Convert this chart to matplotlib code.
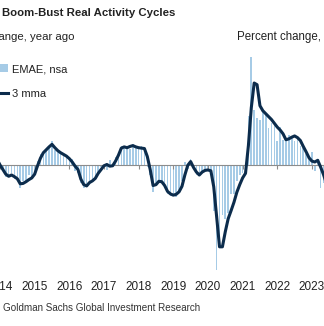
import numpy as np
import matplotlib
matplotlib.use("Agg")
import matplotlib.pyplot as plt
from matplotlib.patches import Patch
from matplotlib.lines import Line2D

plt.rcParams['font.family'] = ['Liberation Sans', 'DejaVu Sans']

# monthly data, Dec 2013 .. Aug 2023 (x = months since Jan 2014)
months = np.arange(-1, 116)

emae_nsa = [0.5,
    0.2, -1.5, -3.0, -2.5, -2.0, -3.5, -3.0, -5.5, -4.0, -4.5, -2.5, -3.0,
    -1.8, 0.8, 2.5, 3.0, 3.8, 4.5, 5.5, 3.5, 3.0, 3.2, 2.0, 2.2,
    0.8, 1.2, -1.5, -2.0, -4.5, -5.5, -5.0, -4.0, -4.2, -3.0, -1.8, -0.5,
    -0.8, -1.2, 1.0, 0.2, 1.8, 3.0, 4.5, 4.0, 4.5, 3.8, 5.0, 4.0,
    3.8, 4.5, 3.5, -0.5, -2.5, -6.5, -4.5, -3.8, -4.5, -5.5, -7.0, -7.5,
    -7.0, -7.8, -6.5, -4.0, 0.5, -1.0, 1.2, -0.8, -2.5, -2.2, -1.5, -1.0,
    -1.5, -1.8, -11.0, -25.2, -19.5, -12.0, -13.0, -11.5, -7.0, -7.0, -4.0, -2.5,
    -2.0, -2.5, 11.5, 25.6, 13.0, 11.0, 10.5, 12.8, 11.8, 8.8, 9.8, 9.5,
    5.5, 9.0, 5.8, 6.2, 7.0, 6.5, 5.5, 6.5, 4.5, 4.0, 2.5, 1.5,
    3.0, -1.5, 1.4, -5.5, -4.3, -5.0, -5.5, -6.0]

mma3 = [1.2,
    -0.1, -1.2, -2.3, -2.8, -2.5, -2.9, -3.4, -4.6, -4.5, -4.1, -3.6, -3.2,
    -2.3, -0.3, 1.5, 2.8, 3.5, 4.2, 4.8, 4.0, 3.3, 2.8, 2.4, 2.0,
    1.4, 0.6, -0.4, -1.2, -3.5, -4.8, -5.1, -4.3, -3.9, -3.3, -2.1, -1.2,
    -0.3, 0.0, -0.4, -0.3, 0.8, 2.2, 3.9, 4.2, 4.0, 4.3, 4.5, 4.2,
    4.0, 3.9, 3.8, 1.9, -1.2, -5.0, -4.8, -4.0, -4.1, -5.0, -6.4, -7.0,
    -7.3, -7.1, -6.5, -5.2, -2.5, -0.2, 0.7, -0.7, -1.8, -2.5, -1.8, -1.4,
    -1.3, -1.5, -5.3, -12.4, -19.6, -19.6, -16.0, -12.9, -11.0, -9.0, -6.6, -4.8,
    -3.2, -2.1, 4.5, 13.5, 19.4, 19.0, 14.0, 12.8, 12.1, 11.4, 10.7, 9.8,
    8.9, 8.2, 7.3, 5.9, 6.1, 6.5, 6.8, 6.4, 5.7, 4.3, 3.0, 1.6,
    0.8, 0.6, 1.0, -0.6, -2.4, -4.5, -5.8, -6.2]

years = [2014, 2015, 2016, 2017, 2018, 2019, 2020, 2021, 2022, 2023]
year_x = [(y - 2014) * 12 for y in years]

fig = plt.figure(figsize=(3.24, 3.26), dpi=100)
ax = fig.add_axes([0, 0, 1, 1])

ax.bar(months, emae_nsa, width=0.55, color='#a6cbe6', zorder=1)
ax.plot(months, mma3, color='#0c2c4c', lw=2.2, zorder=3, solid_joinstyle='round')
ax.axhline(0, color='#8c8c8c', lw=0.8, zorder=2)

ax.set_xlim(0.45, 0.45 + 324 / 2.9)
ax.set_ylim(-161.5 / 4.2, 164.5 / 4.2)

for s in ['top', 'right', 'left', 'bottom']:
    ax.spines[s].set_visible(False)
ax.spines['bottom'].set_position(('data', 0))
ax.set_yticks([])
ax.set_xticks(year_x)
ax.tick_params(axis='x', length=3, color='#8c8c8c', width=0.8, labelbottom=False)

for yr, x in zip(years, year_x):
    ax.text(x, 0.121, str(yr), transform=ax.get_xaxis_transform(),
            ha='center', va='center', fontsize=8.5, color='#222222')

# titles
fig.text(2 / 324, 1 - 12.5 / 326, 'Boom-Bust Real Activity Cycles',
         fontsize=8.2, fontweight='bold', color='#222222', ha='left', va='center')
fig.text(74 / 324, 1 - 37 / 326, 'Percent change, year ago',
         fontsize=8.2, color='#222222', ha='right', va='center')
fig.text(237 / 324, 1 - 37 / 326, 'Percent change, year ago',
         fontsize=8.3, color='#222222', ha='left', va='center')
fig.text(3 / 324, 18 / 326, 'Goldman Sachs Global Investment Research',
         fontsize=7.1, color='#333333', ha='left', va='center')

handles = [Patch(facecolor='#a6cbe6', edgecolor='none', label='EMAE, nsa'),
           Line2D([], [], color='#0c2c4c', lw=2.2, label='3 mma')]
ax.legend(handles=handles, loc='upper left', bbox_to_anchor=(-0.062, 0.834),
          frameon=False, fontsize=8, handlelength=1.6, handletextpad=0.4,
          labelspacing=1.37, labelcolor='#222222')

fig.savefig('out.png', dpi=100)
